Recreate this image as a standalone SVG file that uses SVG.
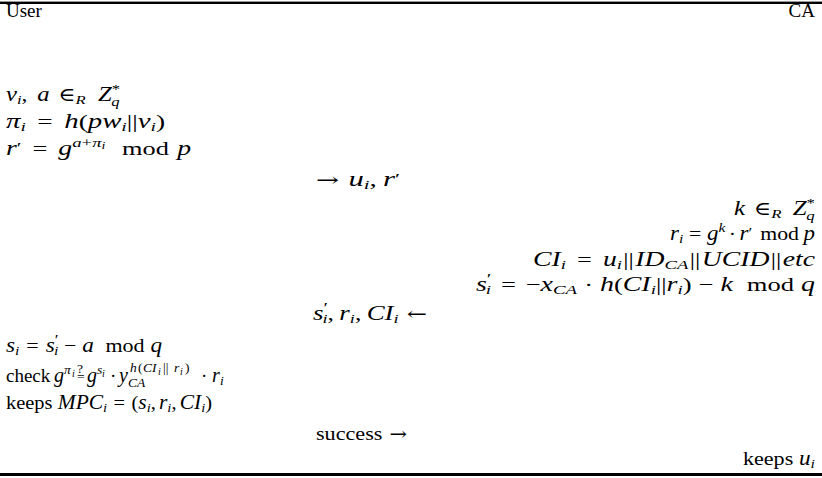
<svg xmlns="http://www.w3.org/2000/svg" width="822" height="478" viewBox="0 0 822 478">
<style>
text { font-family: "Liberation Serif", "DejaVu Serif", serif; font-size: 19px; fill: #000; }
.i { font-style: italic; font-size: 20px; }
.s { font-size: 13.5px; }
.ss { font-size: 10px; }
.p { font-size: 15px; font-style: normal; }
.a { font-family: "DejaVu Serif", serif; font-size: 18px; font-style: normal; }
.r { text-anchor: end; }
</style>
<rect x="0" y="1.6" width="822" height="2.4" fill="#000"/>
<rect x="0" y="473" width="822" height="3" fill="#000"/>
<g id="header">
<text x="6" y="17">User</text>
<text class="r" x="815" y="17">CA</text>
</g>
<g id="user1">
<text x="6" y="101" textLength="114" lengthAdjust="spacingAndGlyphs"><tspan class="i">v</tspan><tspan class="s i" dy="3">i</tspan><tspan dy="-3">,</tspan><tspan class="i" dx="8">a</tspan><tspan dx="7">∈</tspan><tspan class="s i" dy="3">R</tspan><tspan class="i" dx="10" dy="-3">Z</tspan><tspan class="s" dy="-8">*</tspan><tspan class="s i" dx="-7" dy="13">q</tspan></text>
<text x="6" y="128" textLength="159" lengthAdjust="spacingAndGlyphs"><tspan class="i">π</tspan><tspan class="s i" dy="3">i</tspan><tspan dx="8" dy="-3">=</tspan><tspan class="i" dx="8">h</tspan>(<tspan class="i">pw</tspan><tspan class="s i" dy="3">i</tspan><tspan dy="-3">||</tspan><tspan class="i">v</tspan><tspan class="s i" dy="3">i</tspan><tspan dy="-3">)</tspan></text>
<text x="6" y="155" textLength="185" lengthAdjust="spacingAndGlyphs"><tspan class="i">r</tspan><tspan class="p" dy="-2">′</tspan><tspan dx="8" dy="2">=</tspan><tspan class="i" dx="8">g</tspan><tspan class="s i" dy="-8">a</tspan><tspan class="s">+</tspan><tspan class="s i">π</tspan><tspan class="ss i" dy="2">i</tspan><tspan dx="12" dy="6">mod</tspan><tspan class="i" dx="6">p</tspan></text>
</g>
<g id="msg1">
<text x="316" y="186" textLength="84" lengthAdjust="spacingAndGlyphs"><tspan class="a">→</tspan><tspan class="i" dx="6">u</tspan><tspan class="s i" dy="3">i</tspan><tspan dy="-3">,</tspan><tspan class="i" dx="4">r</tspan><tspan class="p" dy="-2">′</tspan></text>
</g>
<g id="ca1">
<text class="r" x="815" y="215" textLength="81" lengthAdjust="spacingAndGlyphs"><tspan class="i">k</tspan><tspan dx="7">∈</tspan><tspan class="s i" dy="3">R</tspan><tspan class="i" dx="9" dy="-3">Z</tspan><tspan class="s" dy="-8">*</tspan><tspan class="s i" dx="-7" dy="13">q</tspan></text>
<text class="r" x="815" y="240" textLength="145" lengthAdjust="spacingAndGlyphs"><tspan class="i">r</tspan><tspan class="s i" dy="3">i</tspan><tspan dx="5" dy="-3">=</tspan><tspan class="i" dx="5">g</tspan><tspan class="s i" dy="-8">k</tspan><tspan dx="3" dy="8">·</tspan><tspan class="i" dx="3">r</tspan><tspan class="p" dy="-2">′</tspan><tspan dx="7" dy="2">mod</tspan><tspan class="i" dx="4">p</tspan></text>
<text class="r" x="815" y="266" textLength="282" lengthAdjust="spacingAndGlyphs"><tspan class="i">CI</tspan><tspan class="s i" dy="3">i</tspan><tspan dx="8" dy="-3">=</tspan><tspan class="i" dx="8">u</tspan><tspan class="s i" dy="3">i</tspan><tspan dx="1" dy="-3">||</tspan><tspan class="i" dx="1">ID</tspan><tspan class="s i" dy="3">CA</tspan><tspan dx="1" dy="-3">||</tspan><tspan class="i" dx="1">UCID</tspan><tspan dx="1">||</tspan><tspan class="i" dx="1">etc</tspan></text>
<text class="r" x="815" y="291" textLength="339" lengthAdjust="spacingAndGlyphs"><tspan class="i">s</tspan><tspan class="p" dy="-7">′</tspan><tspan class="s i" dx="-4" dy="10">i</tspan><tspan dx="7" dy="-3">=</tspan><tspan dx="7">−</tspan><tspan class="i">x</tspan><tspan class="s i" dy="3">CA</tspan><tspan dx="5" dy="-3">·</tspan><tspan class="i" dx="5">h</tspan>(<tspan class="i">CI</tspan><tspan class="s i" dy="3">i</tspan><tspan dy="-3">||</tspan><tspan class="i">r</tspan><tspan class="s i" dy="3">i</tspan><tspan dy="-3">)</tspan><tspan dx="5">−</tspan><tspan class="i" dx="5">k</tspan><tspan dx="10">mod</tspan><tspan class="i" dx="5">q</tspan></text>
</g>
<g id="msg2">
<text x="313" y="320" textLength="114" lengthAdjust="spacingAndGlyphs"><tspan class="i">s</tspan><tspan class="p" dy="-7">′</tspan><tspan class="s i" dx="-4" dy="10">i</tspan><tspan dy="-3">,</tspan><tspan class="i" dx="4">r</tspan><tspan class="s i" dy="3">i</tspan><tspan dy="-3">,</tspan><tspan class="i" dx="4">CI</tspan><tspan class="s i" dy="3">i</tspan><tspan class="a" dx="6" dy="-3">←</tspan></text>
</g>
<g id="user2">
<text x="6" y="352" textLength="156" lengthAdjust="spacingAndGlyphs"><tspan class="i">s</tspan><tspan class="s i" dy="3">i</tspan><tspan dx="6" dy="-3">=</tspan><tspan class="i" dx="6">s</tspan><tspan class="p" dy="-7">′</tspan><tspan class="s i" dx="-4" dy="10">i</tspan><tspan dx="5" dy="-3">−</tspan><tspan class="i" dx="5">a</tspan><tspan dx="10">mod</tspan><tspan class="i" dx="5">q</tspan></text>
<text x="6" y="382"><tspan x="6" y="382">check</tspan><tspan class="i" x="54" y="382">g</tspan><tspan class="s i" x="64" y="374">π</tspan><tspan class="ss i" x="72" y="377">i</tspan><tspan class="s" x="77" y="373">?</tspan><tspan class="s" x="77" y="381">=</tspan><tspan class="i" x="87" y="382">g</tspan><tspan class="s i" x="97" y="374">s</tspan><tspan class="ss i" x="102" y="377">i</tspan><tspan x="110" y="382">·</tspan><tspan class="i" x="119" y="382">y</tspan><tspan class="s i" x="130" y="372">h</tspan><tspan class="s" x="138" y="372">(</tspan><tspan class="s i" x="143" y="372">CI</tspan><tspan class="ss i" x="158" y="375">i</tspan><tspan class="s" x="163" y="372">||</tspan><tspan class="s i" x="174" y="372">r</tspan><tspan class="ss i" x="180" y="375">i</tspan><tspan class="s" x="185" y="372">)</tspan><tspan class="s i" x="128" y="387">CA</tspan><tspan x="201" y="382">·</tspan><tspan class="i" x="212" y="382">r</tspan><tspan class="s i" x="220" y="385">i</tspan></text>
<text x="6" y="409" textLength="206" lengthAdjust="spacingAndGlyphs">keeps<tspan class="i" dx="5">MPC</tspan><tspan class="s i" dy="3">i</tspan><tspan dx="6" dy="-3">=</tspan><tspan dx="6">(</tspan><tspan class="i">s</tspan><tspan class="s i" dy="3">i</tspan><tspan dy="-3">,</tspan><tspan class="i" dx="3">r</tspan><tspan class="s i" dy="3">i</tspan><tspan dy="-3">,</tspan><tspan class="i" dx="3">CI</tspan><tspan class="s i" dy="3">i</tspan><tspan dy="-3">)</tspan></text>
</g>
<g id="msg3">
<text x="316" y="440" textLength="91" lengthAdjust="spacingAndGlyphs">success<tspan class="a" dx="6">→</tspan></text>
</g>
<g id="ca2">
<text class="r" x="815" y="465" textLength="72" lengthAdjust="spacingAndGlyphs">keeps<tspan class="i" dx="5">u</tspan><tspan class="s i" dy="3">i</tspan></text>
</g>
</svg>
